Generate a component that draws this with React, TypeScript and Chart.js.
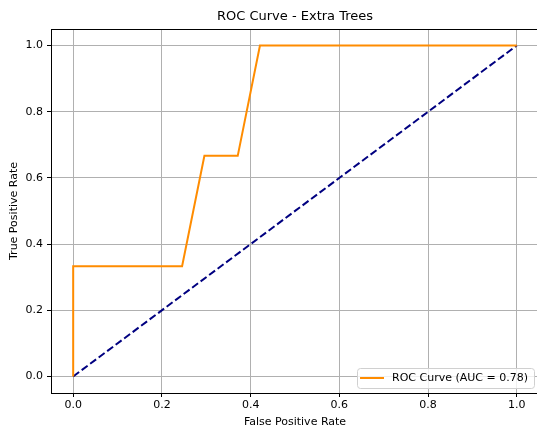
import React, { useEffect, useRef } from "react";
import { Chart, registerables } from "chart.js";

Chart.register(...registerables);

const TITLE = "ROC Curve - Extra Trees";
const X_LABEL = "False Positive Rate";
const Y_LABEL = "True Positive Rate";
const LEGEND_LABEL = "ROC Curve (AUC = 0.78)";

const rocFpr = [0.0, 0.0, 0.2455, 0.2958, 0.3709, 0.421, 1.0];
const rocTpr = [0.0, 0.3333, 0.3333, 0.6667, 0.6667, 1.0, 1.0];
const diagX = [0, 1];
const diagY = [0, 1];
const tickValues = [0, 0.2, 0.4, 0.6, 0.8, 1.0];

const FONT = "'DejaVu Sans', sans-serif";
const VIEW_W = 537;

const framePlugin = {
  id: "frame",
  afterDraw(chart: any) {
    const { ctx, chartArea } = chart;
    const { left, right, top, bottom } = chartArea;
    ctx.save();
    ctx.strokeStyle = "#000";
    ctx.lineWidth = 1;
    ctx.strokeRect(left + 0.5, top + 0.5, right - left - 1, bottom - top);
    // title
    ctx.fillStyle = "#000";
    ctx.font = `13px ${FONT}`;
    ctx.textAlign = "center";
    ctx.textBaseline = "middle";
    ctx.fillText(TITLE, (left + right) / 2, 17);
    // legend
    ctx.font = `11px ${FONT}`;
    const tw = ctx.measureText(LEGEND_LABEL).width;
    const bw = 35 + tw + 6;
    const bh = 20;
    const visRight = Math.min(right, VIEW_W);
    const bx = visRight - 3 - bw;
    const by = bottom - 5 - bh;
    ctx.beginPath();
    ctx.roundRect(bx + 0.5, by + 0.5, bw, bh, 3);
    ctx.fillStyle = "rgba(255,255,255,0.8)";
    ctx.fill();
    ctx.strokeStyle = "#d0d0d0";
    ctx.lineWidth = 1;
    ctx.stroke();
    ctx.beginPath();
    ctx.strokeStyle = "#ff8c00";
    ctx.lineWidth = 2;
    ctx.moveTo(bx + 3, by + bh / 2);
    ctx.lineTo(bx + 27, by + bh / 2);
    ctx.stroke();
    ctx.fillStyle = "#000";
    ctx.textAlign = "left";
    ctx.fillText(LEGEND_LABEL, bx + 35, by + bh / 2 + 0.5);
    ctx.restore();
  },
};

export default function App() {
  const ref = useRef<HTMLCanvasElement | null>(null);
  useEffect(() => {
    if (!ref.current) return;
    const chart = new Chart(ref.current, {
      type: "line",
      data: {
        datasets: [
          {
            label: LEGEND_LABEL,
            data: rocFpr.map((x, i) => ({ x, y: rocTpr[i] })),
            borderColor: "#ff8c00",
            borderWidth: 2,
            pointRadius: 0,
            tension: 0,
            fill: false,
          },
          {
            label: "diag",
            data: diagX.map((x, i) => ({ x, y: diagY[i] })),
            borderColor: "#000080",
            borderWidth: 2,
            borderDash: [7.4, 3.2],
            pointRadius: 0,
            tension: 0,
            fill: false,
          },
        ],
      },
      options: {
        responsive: false,
        animation: false,
        layout: { padding: { left: 0, right: 0, top: 29, bottom: 0 } },
        plugins: {
          legend: { display: false },
          title: { display: false },
          tooltip: { enabled: false },
        },
        scales: {
          x: {
            type: "linear",
            min: -0.05,
            max: 1.05,
            afterBuildTicks: (s: any) => {
              s.ticks = tickValues.map((v) => ({ value: v }));
            },
            afterFit: (s: any) => {
              s.height = 39;
              s.paddingLeft = 0;
              s.paddingRight = 0;
            },
            ticks: {
              color: "#000",
              font: { family: FONT, size: 11 },
              padding: 2,
              maxRotation: 0,
              callback: (v: any) => Number(v).toFixed(1),
            },
            grid: { color: "#b0b0b0", tickColor: "#000", tickLength: 4, lineWidth: 1 },
            border: { color: "#000", width: 1 },
            title: {
              display: true,
              text: X_LABEL,
              color: "#000",
              font: { family: FONT, size: 11 },
              padding: { top: 0, bottom: 3 },
            },
          },
          y: {
            type: "linear",
            min: -0.05,
            max: 1.05,
            afterBuildTicks: (s: any) => {
              s.ticks = tickValues.map((v) => ({ value: v }));
            },
            afterFit: (s: any) => {
              s.width = 51;
              s.paddingTop = 0;
              s.paddingBottom = 0;
            },
            ticks: {
              color: "#000",
              font: { family: FONT, size: 11 },
              padding: 4,
              callback: (v: any) => Number(v).toFixed(1),
            },
            grid: { color: "#b0b0b0", tickColor: "#000", tickLength: 4, lineWidth: 1 },
            border: { color: "#000", width: 1 },
            title: {
              display: true,
              text: Y_LABEL,
              color: "#000",
              font: { family: FONT, size: 11 },
              padding: { top: 8, bottom: 0 },
            },
          },
        },
      },
      plugins: [framePlugin],
    } as any);
    return () => chart.destroy();
  }, []);
  return (
    <div style={{ position: "absolute", left: 0, top: 0, width: VIEW_W, height: 432, background: "#fff", overflow: "hidden" }}>
      <canvas ref={ref} width={539} height={432} style={{ display: "block" }} />
    </div>
  );
}
